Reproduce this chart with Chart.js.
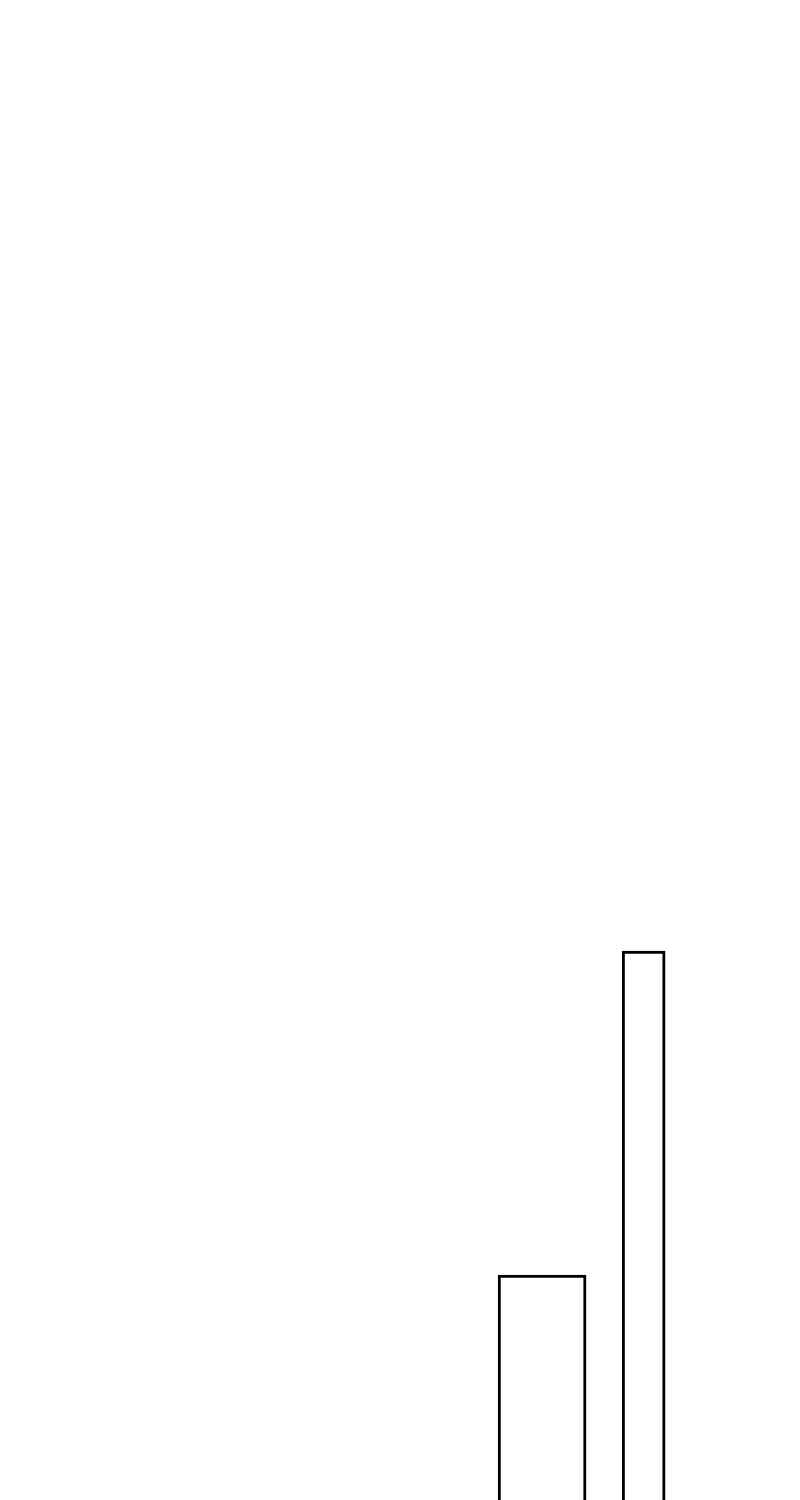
<!DOCTYPE html>
<html>
<head>
<meta charset="utf-8">
<script src="https://cdn.jsdelivr.net/npm/chart.js@4/dist/chart.umd.min.js"></script>
<style>
  html, body { margin: 0; padding: 0; background: #fff; }
  #wrap { width: 800px; height: 1500px; position: relative; }
</style>
</head>
<body>
<div id="wrap"><canvas id="chart"></canvas></div>
<script>
// categories (unlabelled slots), only two of them carry a bar
const categories = ["c1", "c2", "c3", "c4", "c5", "c6", "c7"];
const wideValues = [null, null, null, null, 15, null, null];
const narrowValues = [null, null, null, null, null, 36.6, null];

const ctx = document.getElementById("chart");

new Chart(ctx, {
  type: "bar",
  data: {
    labels: categories,
    datasets: [
      {
        data: wideValues,
        backgroundColor: "#ffffff",
        borderColor: "#000000",
        borderWidth: 3,
        barThickness: 88,
        skipNull: true,
      },
      {
        data: narrowValues,
        backgroundColor: "#ffffff",
        borderColor: "#000000",
        borderWidth: 3,
        barThickness: 43,
        skipNull: true,
      },
    ],
  },
  options: {
    responsive: true,
    maintainAspectRatio: false,
    animation: false,
    grouped: false,
    layout: { padding: { left: 85, right: 4, top: 0, bottom: 0 } },
    plugins: {
      legend: { display: false },
      tooltip: { enabled: false },
    },
    scales: {
      x: { display: false, grid: { display: false } },
      y: { display: false, min: 0, max: 100, grid: { display: false } },
    },
  },
});
</script>
</body>
</html>
